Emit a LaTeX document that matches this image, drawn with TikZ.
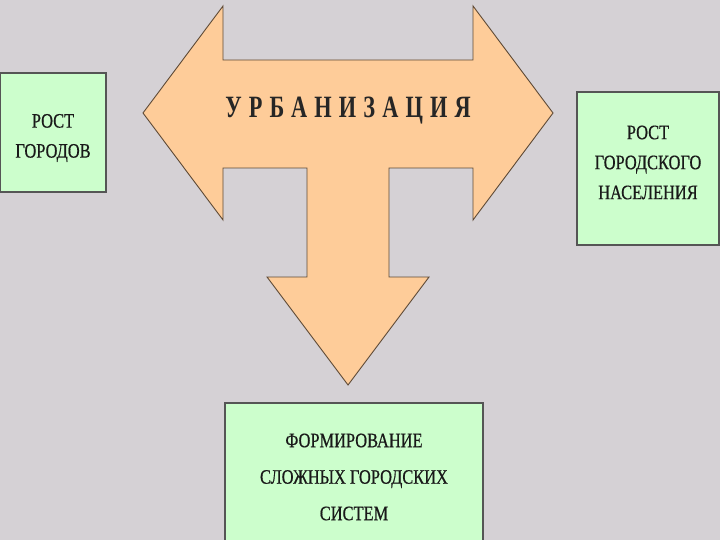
\documentclass[tikz,border=0pt]{standalone}
\usepackage{fontspec}
\setmainfont{Liberation Serif}
\newfontfamily\titlefont[LetterSpace=23,FakeStretch=0.72]{Liberation Serif}
\newfontfamily\boxfont[FakeStretch=0.8,FakeBold=0.6]{Liberation Serif}
\usepackage{xcolor}
\usetikzlibrary{positioning}
\definecolor{pagegray}{HTML}{D5D1D5}
\definecolor{arrowpeach}{HTML}{FECC99}
\definecolor{arrowedge}{HTML}{5E4A36}
\definecolor{boxgreen}{HTML}{CCFECC}
\definecolor{boxedge}{HTML}{555555}
\tikzset{
  greenbox/.style={rectangle, draw=boxedge, line width=1.2pt, fill=boxgreen, inner sep=0pt},
  boxtext/.style={align=center, inner sep=0pt, font=\boxfont\fontsize{20.5}{30}\selectfont, text=black!90},
  bigarrow/.style={draw=arrowedge, line width=0.9pt, fill=arrowpeach, line join=miter},
  titletext/.style={font=\titlefont\bfseries\fontsize{31}{34}\selectfont, text=black!85, inner sep=0pt}
}
\begin{document}
\begin{tikzpicture}[x=1pt, y=-1pt]
\fill[pagegray] (0,0) rectangle (720,540);
\useasboundingbox (0,0) rectangle (720,540);
% T-shaped arrow
\draw[bigarrow] (143,113) -- (223,6) -- (223,60) -- (473,60) -- (473,6) -- (553,113)
  -- (473,220) -- (473,168) -- (389,168) -- (389,277) -- (429,277) -- (348,385)
  -- (267,277) -- (307,277) -- (307,168) -- (223,168) -- (223,220) -- cycle;
\node[titletext] (urban) at (348,111) {УРБАНИЗАЦИЯ};
% boxes
\node[greenbox, minimum width=106pt, minimum height=119pt] (cities) at (53,132.5) {};
\node[greenbox, minimum width=142pt, minimum height=153pt] (population) at (648,168.5) {};
\node[greenbox, minimum width=258pt, minimum height=140pt] (systems) at (354,473) {};
\node[boxtext] (citiestext) at ([yshift=-5.5pt]cities.center) {РОСТ\\ГОРОДОВ};
\node[boxtext] (populationtext) at ([yshift=6pt]population.center) {РОСТ\\ГОРОДСКОГО\\НАСЕЛЕНИЯ};
\node[boxtext, font=\boxfont\fontsize{20.5}{36.5}\selectfont] (systemstext) at ([yshift=-4pt]systems.center) {ФОРМИРОВАНИЕ\\СЛОЖНЫХ ГОРОДСКИХ\\СИСТЕМ};
\end{tikzpicture}
\end{document}
